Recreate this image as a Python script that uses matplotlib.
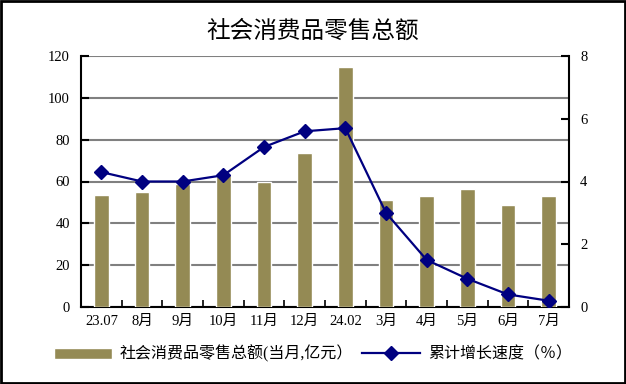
import matplotlib
matplotlib.use("Agg")
import matplotlib.pyplot as plt
from matplotlib.patches import Rectangle

plt.rcParams['font.family'] = ['Liberation Serif', 'Noto Sans CJK SC', 'DejaVu Sans']

categories = ["23.07", "8月", "9月", "10月", "11月", "12月", "24.02", "3月", "4月", "5月", "6月", "7月"]
retail = [53.5, 55.0, 58.8, 63.0, 59.8, 73.6, 114.7, 51.1, 53.0, 56.4, 48.8, 53.0]
growth = [4.3, 4.0, 4.0, 4.2, 5.1, 5.6, 5.7, 3.0, 1.5, 0.9, 0.4, 0.2]
title = "社会消费品零售总额"
bar_label = "社会消费品零售总额(当月,亿元）"
line_label = "累计增长速度（％）"

fig = plt.figure(figsize=(6.26, 3.84), dpi=100)
ax = fig.add_axes([81/626, 1-307/384, (569-81)/626, (307-56)/384])
x = list(range(len(categories)))
bars = ax.bar(x, retail, width=0.36, color="#948A54", edgecolor="white", linewidth=1.0,
              zorder=3, label=bar_label)
ax.set_ylim(0, 120)
ax.set_yticks(range(0, 121, 20))
ax.set_xlim(-0.5, len(categories)-0.5)
ax.set_xticks(x)
ax.set_xticklabels(categories, fontsize=10.5)
ax.set_xticks([i + 0.5 for i in x[:-1]], minor=True)
ax.tick_params(axis='x', which='major', length=0, pad=6)
ax.tick_params(axis='x', which='minor', direction='in', length=5, width=1.2)
ax.tick_params(axis='y', direction='in', length=6, width=1.5, labelsize=10.5, pad=8)
ax.grid(axis='y', color="#808080", linewidth=1.5, zorder=1)
for s in ['left', 'bottom']:
    ax.spines[s].set_linewidth(1.5)
ax.spines['top'].set_visible(False)
ax.spines['right'].set_visible(False)

ax2 = ax.twinx()
ax2.plot(x, growth, color="#000080", linewidth=1.6, marker='D', markersize=7,
         zorder=5, label=line_label)
ax2.set_ylim(0, 8)
ax2.set_yticks(range(0, 9, 2))
ax2.tick_params(axis='y', direction='in', length=6, width=1.5, labelsize=10.5, pad=8)
ax2.spines['right'].set_linewidth(1.5)
ax2.spines['top'].set_visible(False)
ax2.spines['left'].set_visible(False)
ax2.spines['bottom'].set_visible(False)

fig.text(0.5, 1-31/384, title, ha='center', va='center', fontsize=17,
         family=['Noto Sans CJK SC', 'DejaVu Sans'])

h1, l1 = ax.get_legend_handles_labels()
h2, l2 = ax2.get_legend_handles_labels()
fig.legend(h1 + h2, l1 + l2, loc='center', bbox_to_anchor=(0.5, 1-354/384), ncol=2,
           frameon=False, fontsize=11.5, handlelength=3.6, columnspacing=0.6,
           handletextpad=0.5, prop={'size': 11.5})

fig.patches.append(Rectangle((0.002, 0.003), 0.996, 0.994, transform=fig.transFigure,
                             fill=False, edgecolor='black', linewidth=2))
fig.savefig("out.png", dpi=100)
